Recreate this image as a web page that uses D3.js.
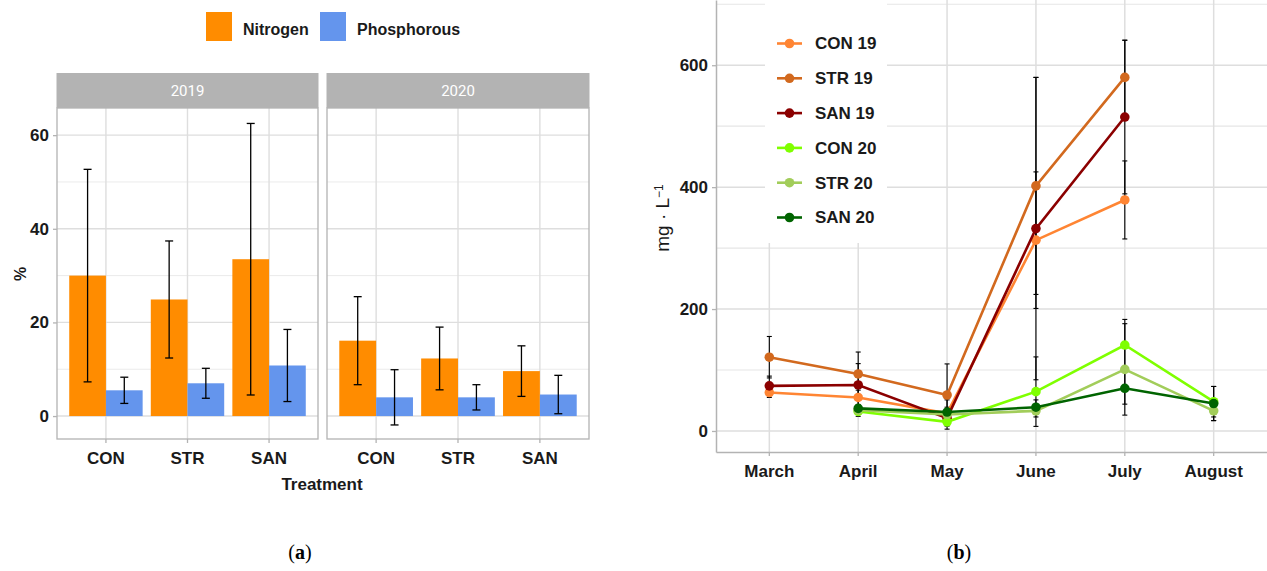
<!DOCTYPE html>
<html>
<head>
<meta charset="utf-8">
<script src="https://cdn.jsdelivr.net/npm/d3@7"></script>
<style>
  body { margin: 0; background: #fff; }
  svg { display: block; }
  .narrow { font-family: "Liberation Sans Narrow", "Arial Narrow", sans-serif; font-weight: bold; }
</style>
</head>
<body>
<svg id="chart" width="1267" height="571"></svg>
<script>
// ---- panel (a) data ----
let treatments = ["CON", "STR", "SAN"];
let years = ["2019", "2020"];
let nutrients = ["Nitrogen", "Phosphorous"];
let nitrogen2019 = [30.0, 24.9, 33.5];
let nitrogenSd2019 = [22.7, 12.5, 29.0];
let phosphorous2019 = [5.5, 7.0, 10.8];
let phosphorousSd2019 = [2.8, 3.2, 7.7];
let nitrogen2020 = [16.1, 12.3, 9.6];
let nitrogenSd2020 = [9.4, 6.7, 5.4];
let phosphorous2020 = [4.0, 4.0, 4.6];
let phosphorousSd2020 = [5.9, 2.7, 4.1];
let percentTicks = [0, 20, 40, 60];

// ---- panel (b) data ----
let months = ["March", "April", "May", "June", "July", "August"];
let seriesNames = ["CON 19", "STR 19", "SAN 19", "CON 20", "STR 20", "SAN 20"];
let con19 = [63, 55, 29, 313, 379, null];
let con19Sd = [8, 12, 10, 112, 64, null];
let str19 = [121, 93.5, 59, 402, 580, null];
let str19Sd = [34, 36, 51, 178, 61, null];
let san19 = [74, 75.5, 21, 332, 515, null];
let san19Sd = [16, 35, 12, 248, 126, null];
let con20 = [null, 32, 15, 64.5, 141, 48];
let con20Sd = [null, 8, 12, 57, 42, 25];
let str20 = [null, 34, 27, 33, 101, 33];
let str20Sd = [null, 6, 8, 10, 75, 16];
let san20 = [null, 37, 31, 39, 70, 45];
let san20Sd = [null, 5, 20, 12, 26, 28];
let mgTicks = [0, 200, 400, 600];

let barColors = ["#FF8C00", "#6495ED"];
let lineColors = ["#FF8533", "#D2691E", "#8B0000", "#7FFF00", "#A2CD5A", "#006400"];
let gridColor = "#DEDEDE";
let borderColor = "#B3B3B3";

let svg = d3.select("#chart");

// ================= (a) faceted bar chart =================
let barData = {
  "2019": { n: nitrogen2019, nSd: nitrogenSd2019, p: phosphorous2019, pSd: phosphorousSd2019 },
  "2020": { n: nitrogen2020, nSd: nitrogenSd2020, p: phosphorous2020, pSd: phosphorousSd2020 }
};
let panelTop = 108, panelBottom = 439;
let facetX = [[57, 318], [327, 589]];

let yPct = d3.scaleLinear().domain([-4.9, 65.8]).range([panelBottom, panelTop]);

years.forEach(function(year, fi) {
  let x0 = facetX[fi][0], x1 = facetX[fi][1];
  let x = d3.scaleBand().domain(treatments).range([x0, x1]).paddingInner(0).paddingOuter(0.1);
  let sub = d3.scaleBand().domain(nutrients).range([0, x.bandwidth() * 0.9]);
  let g = svg.append("g");

  // minor + major grid
  let minor = d3.range(10, 61, 20);
  g.selectAll(".minor").data(minor).join("line")
    .attr("x1", x0).attr("x2", x1)
    .attr("y1", d => yPct(d)).attr("y2", d => yPct(d))
    .attr("stroke", "#EBEBEB").attr("stroke-width", 1);
  g.selectAll(".major").data(percentTicks).join("line")
    .attr("x1", x0).attr("x2", x1)
    .attr("y1", d => yPct(d)).attr("y2", d => yPct(d))
    .attr("stroke", gridColor).attr("stroke-width", 1.4);
  g.selectAll(".vgrid").data(treatments).join("line")
    .attr("x1", d => x(d) + x.bandwidth() / 2).attr("x2", d => x(d) + x.bandwidth() / 2)
    .attr("y1", panelTop).attr("y2", panelBottom)
    .attr("stroke", gridColor).attr("stroke-width", 1.4);

  // bars
  let rows = [];
  treatments.forEach(function(t, i) {
    rows.push({ t: t, k: "Nitrogen", v: barData[year].n[i], sd: barData[year].nSd[i], c: barColors[0] });
    rows.push({ t: t, k: "Phosphorous", v: barData[year].p[i], sd: barData[year].pSd[i], c: barColors[1] });
  });
  let off = x.bandwidth() * 0.05;
  g.selectAll("rect.bar").data(rows).join("rect")
    .attr("x", d => x(d.t) + off + sub(d.k))
    .attr("width", sub.bandwidth())
    .attr("y", d => yPct(d.v))
    .attr("height", d => yPct(0) - yPct(d.v))
    .attr("fill", d => d.c);

  // error bars
  let cx = d => x(d.t) + off + sub(d.k) + sub.bandwidth() / 2;
  let eb = g.selectAll("g.err").data(rows).join("g").attr("stroke", "#000").attr("stroke-width", 1.3);
  eb.append("line").attr("x1", cx).attr("x2", cx)
    .attr("y1", d => yPct(d.v + d.sd)).attr("y2", d => yPct(d.v - d.sd));
  eb.append("line").attr("x1", d => cx(d) - 4).attr("x2", d => cx(d) + 4)
    .attr("y1", d => yPct(d.v + d.sd)).attr("y2", d => yPct(d.v + d.sd));
  eb.append("line").attr("x1", d => cx(d) - 4).attr("x2", d => cx(d) + 4)
    .attr("y1", d => yPct(d.v - d.sd)).attr("y2", d => yPct(d.v - d.sd));

  // panel border
  g.append("rect").attr("x", x0).attr("y", panelTop).attr("width", x1 - x0).attr("height", panelBottom - panelTop)
    .attr("fill", "none").attr("stroke", borderColor).attr("stroke-width", 1.3);

  // strip
  g.append("rect").attr("x", x0 - 0.5).attr("y", 73).attr("width", x1 - x0 + 1).attr("height", 35)
    .attr("fill", "#B3B3B3");
  g.append("text").attr("x", (x0 + x1) / 2).attr("y", 91).attr("dy", "0.35em")
    .attr("text-anchor", "middle").attr("fill", "#fff")
    .style("font-family", "Roboto, 'Liberation Sans', sans-serif").style("font-size", "15px")
    .text(year);

  // x axis
  let xa = g.append("g").attr("transform", `translate(0,${panelBottom})`)
    .call(d3.axisBottom(x).tickSize(4).tickSizeOuter(0).tickPadding(9));
  xa.select(".domain").remove();
  xa.selectAll(".tick line").attr("stroke", borderColor).attr("stroke-width", 1.3);
  xa.selectAll("text").attr("class", "narrow").attr("fill", "#1a1a1a").style("font-size", "17px");
});

// y axis (left facet only)
let ya = svg.append("g").attr("transform", "translate(57,0)")
  .call(d3.axisLeft(yPct).tickValues(percentTicks).tickSize(4).tickPadding(4));
ya.select(".domain").remove();
ya.selectAll(".tick line").attr("stroke", borderColor).attr("stroke-width", 1.3);
ya.selectAll("text").attr("class", "narrow").attr("fill", "#1a1a1a").style("font-size", "17px");

svg.append("text").attr("class", "narrow").attr("transform", "translate(20,274) rotate(-90)")
  .attr("text-anchor", "middle").attr("dy", "0.35em").style("font-size", "16px").attr("fill", "#1a1a1a").text("%");
svg.append("text").attr("class", "narrow").attr("x", 322).attr("y", 484).attr("dy", "0.35em")
  .attr("text-anchor", "middle").style("font-size", "17px").attr("fill", "#1a1a1a").text("Treatment");

// legend (a)
let legA = svg.append("g");
let legItems = [{ k: nutrients[0], c: barColors[0], x: 206 }, { k: nutrients[1], c: barColors[1], x: 320 }];
legA.selectAll("rect").data(legItems).join("rect")
  .attr("x", d => d.x).attr("y", 12).attr("width", 26).attr("height", 29).attr("fill", d => d.c);
legA.selectAll("text").data(legItems).join("text").attr("class", "narrow")
  .attr("x", d => d.x + 37).attr("y", 29).attr("dy", "0.35em")
  .style("font-size", "16px").attr("fill", "#1a1a1a").text(d => d.k);

// ================= (b) line chart =================
let bLeft = 716, bRight = 1267, bTop = 0, bBottom = 452;
let xMonth = d3.scaleBand().domain(months).range([bLeft, bRight]).paddingInner(0).paddingOuter(0.1);
let mx = m => xMonth(m) + xMonth.bandwidth() / 2;
let yMg = d3.scaleLinear().domain([-34.5, 707]).range([bBottom, bTop]);

let gb = svg.append("g");
gb.selectAll(".minor").data([100, 300, 500, 700]).join("line")
  .attr("x1", bLeft).attr("x2", bRight).attr("y1", d => yMg(d)).attr("y2", d => yMg(d))
  .attr("stroke", "#E6E6E6").attr("stroke-width", 1.2);
gb.selectAll(".major").data(mgTicks).join("line")
  .attr("x1", bLeft).attr("x2", bRight).attr("y1", d => yMg(d)).attr("y2", d => yMg(d))
  .attr("stroke", gridColor).attr("stroke-width", 1.5);
gb.selectAll(".vgrid").data(months).join("line")
  .attr("x1", mx).attr("x2", mx).attr("y1", bTop).attr("y2", bBottom)
  .attr("stroke", gridColor).attr("stroke-width", 1.5);

let seriesVals = [con19, str19, san19, con20, str20, san20];
let seriesSd = [con19Sd, str19Sd, san19Sd, con20Sd, str20Sd, san20Sd];
let series = seriesNames.map(function(name, i) {
  return {
    name: name, color: lineColors[i],
    pts: months.map((m, j) => ({ m: m, v: seriesVals[i][j], sd: seriesSd[i][j] })).filter(p => p.v !== null)
  };
});

// legend box (drawn before the data so lines go over it)
let legB = svg.append("g");
legB.append("rect").attr("x", 765).attr("y", 0).attr("width", 122).attr("height", 243).attr("fill", "#fff");

// error bars
series.forEach(function(s) {
  let e = gb.append("g").selectAll("g").data(s.pts).join("g").attr("stroke", "#000").attr("stroke-width", 1.1);
  e.append("line").attr("x1", d => mx(d.m)).attr("x2", d => mx(d.m))
    .attr("y1", d => yMg(d.v + d.sd)).attr("y2", d => yMg(d.v - d.sd));
  e.append("line").attr("x1", d => mx(d.m) - 2.5).attr("x2", d => mx(d.m) + 2.5)
    .attr("y1", d => yMg(d.v + d.sd)).attr("y2", d => yMg(d.v + d.sd));
  e.append("line").attr("x1", d => mx(d.m) - 2.5).attr("x2", d => mx(d.m) + 2.5)
    .attr("y1", d => yMg(d.v - d.sd)).attr("y2", d => yMg(d.v - d.sd));
});

let line = d3.line().x(d => mx(d.m)).y(d => yMg(d.v));
series.forEach(function(s) {
  gb.append("path").datum(s.pts).attr("d", line)
    .attr("fill", "none").attr("stroke", s.color).attr("stroke-width", 2.6);
  gb.append("g").selectAll("circle").data(s.pts).join("circle")
    .attr("cx", d => mx(d.m)).attr("cy", d => yMg(d.v)).attr("r", 4.8).attr("fill", s.color);
});

// axes (b)
let yb = svg.append("g").attr("transform", `translate(${bLeft},0)`)
  .call(d3.axisLeft(yMg).tickValues(mgTicks).tickSize(4).tickPadding(4).tickSizeOuter(0));
yb.select(".domain").attr("stroke", borderColor).attr("stroke-width", 1.5);
yb.selectAll(".tick line").attr("stroke", borderColor).attr("stroke-width", 1.3);
yb.selectAll("text").attr("class", "narrow").attr("fill", "#1a1a1a").style("font-size", "17px");

let xb = svg.append("g").attr("transform", `translate(0,${bBottom})`)
  .call(d3.axisBottom(xMonth).tickSize(4).tickPadding(9).tickSizeOuter(0));
xb.select(".domain").attr("stroke", borderColor).attr("stroke-width", 1.5);
xb.selectAll(".tick line").attr("stroke", borderColor).attr("stroke-width", 1.3);
xb.selectAll("text").attr("class", "narrow").attr("fill", "#1a1a1a").style("font-size", "17px");

let yTitle = svg.append("text").attr("transform", "translate(662,218) rotate(-90)")
  .attr("text-anchor", "middle").attr("dy", "0.35em")
  .style("font-family", "'Liberation Sans', Arial, sans-serif").style("font-size", "19px").attr("fill", "#1a1a1a");
yTitle.append("tspan").text("mg \u00B7 L");
yTitle.append("tspan").attr("dy", "-0.45em").style("font-size", "12px").text("\u22121");

// legend (b) entries
let legRows = legB.selectAll("g.item").data(series).join("g")
  .attr("transform", (d, i) => `translate(777,${43.5 + i * 34.8})`);
legRows.append("line").attr("x1", 0).attr("x2", 25).attr("stroke", d => d.color).attr("stroke-width", 2.6);
legRows.append("circle").attr("cx", 12.5).attr("r", 4.8).attr("fill", d => d.color);
legRows.append("text").attr("class", "narrow").attr("x", 38).attr("dy", "0.35em")
  .style("font-size", "17px").attr("fill", "#1a1a1a").text(d => d.name);

// sub-figure labels
[["a", 300], ["b", 959]].forEach(function(l) {
  let t = svg.append("text").attr("x", l[1]).attr("y", 552).attr("dy", "0.35em").attr("text-anchor", "middle")
    .style("font-family", "'Liberation Serif', 'Times New Roman', serif").style("font-size", "20px").attr("fill", "#000");
  t.append("tspan").text("(");
  t.append("tspan").style("font-weight", "bold").text(l[0]);
  t.append("tspan").text(")");
});
</script>
</body>
</html>
